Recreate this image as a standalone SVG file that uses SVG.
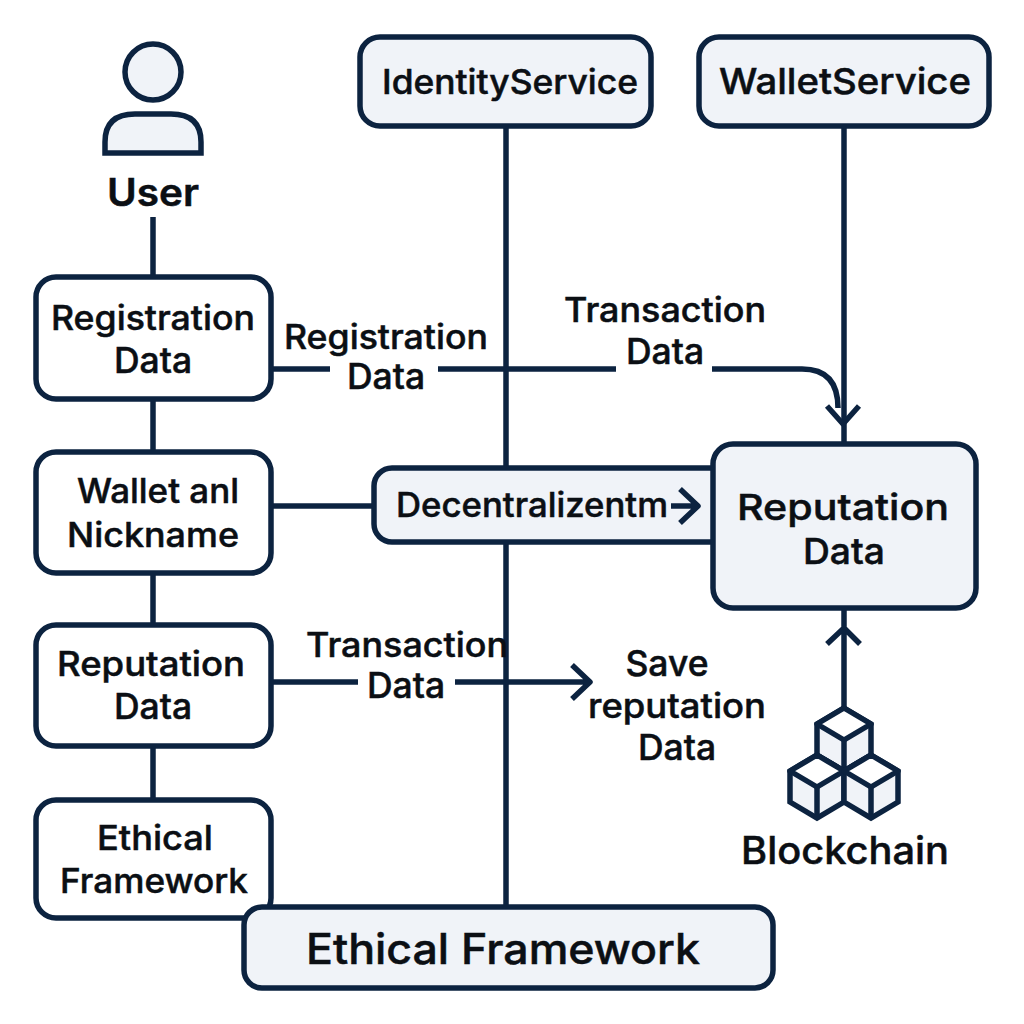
<svg xmlns="http://www.w3.org/2000/svg" width="1024" height="1024" viewBox="0 0 1024 1024">
<style>
.box{fill:#fff;stroke:#0c2340;stroke-width:5.5}
.fill{fill:#f0f3f8;stroke:#0c2340;stroke-width:5.5}
.w{fill:#fff;stroke:#0c2340;stroke-width:5.5;stroke-linejoin:round}
.c{fill:none;stroke:#0c2340;stroke-width:5.5;stroke-linejoin:round;stroke-linecap:butt}
text{font-family:Inter,"Liberation Sans",sans-serif;font-weight:500;fill:#0b0f14;stroke:#0b0f14;stroke-width:.5;text-anchor:middle}
.f34{font-size:34px}.f35{font-size:35.5px}.f36{font-size:36px}.f38{font-size:38px}.f42{font-size:42px}
</style>
<rect width="1024" height="1024" fill="#fff"/>
<g id="connectors">
<path class="c" d="M153 217V277M153 399V452M153 573V625M153 746V800"/>
<path class="c" d="M506 126V468M506 542V907"/>
<path class="c" d="M844 126V444"/>
<path class="c" d="M271 369H330M438 369H616M712 369H802Q838 369 838 408"/>
<path class="c" d="M827 406L843 424L859 406"/>
<path class="c" d="M271 506H373"/>
<path class="c" d="M271 682H358M455 682H590M572 665L590 682L572 699"/>
<path class="c" d="M844 708V610M827 644L844 628L860 644"/>
</g>
<g id="user">
<circle class="fill" cx="153" cy="72" r="28"/>
<path class="fill" d="M105 153V142Q105 114 135 114H171Q201 114 201 142V153Z"/>
<text class="f38" x="153" y="206" textLength="92" lengthAdjust="spacingAndGlyphs" style="font-weight:600">User</text>
</g>
<g id="identity-service">
<rect class="fill" x="360" y="37" width="291" height="89" rx="20"/>
<text class="f34" x="510" y="94" textLength="256" lengthAdjust="spacingAndGlyphs">IdentityService</text>
</g>
<g id="wallet-service">
<rect class="fill" x="699" y="37" width="290" height="89" rx="20"/>
<text class="f36" x="845" y="94" textLength="252" lengthAdjust="spacingAndGlyphs">WalletService</text>
</g>
<g id="registration-data">
<rect class="box" x="36" y="277" width="235" height="122" rx="20"/>
<text class="f34" x="153" y="330" textLength="204" lengthAdjust="spacingAndGlyphs">Registration</text>
<text class="f35" x="153" y="373">Data</text>
</g>
<g id="wallet-nickname">
<rect class="box" x="36" y="452" width="235" height="121" rx="20"/>
<text class="f34" x="158" y="503" textLength="162" lengthAdjust="spacingAndGlyphs">Wallet anl</text>
<text class="f34" x="153" y="547" textLength="172" lengthAdjust="spacingAndGlyphs">Nickname</text>
</g>
<g id="reputation-data-left">
<rect class="box" x="36" y="625" width="235" height="121" rx="20"/>
<text class="f34" x="151" y="676" textLength="188" lengthAdjust="spacingAndGlyphs">Reputation</text>
<text class="f35" x="153" y="719">Data</text>
</g>
<g id="ethical-framework-box">
<rect class="box" x="36" y="800" width="235" height="118" rx="20"/>
<text class="f34" x="155" y="850" textLength="116" lengthAdjust="spacingAndGlyphs">Ethical</text>
<text class="f34" x="154" y="893" textLength="188" lengthAdjust="spacingAndGlyphs">Framework</text>
</g>
<g id="ethical-framework-bar">
<rect class="fill" x="244" y="907" width="529" height="81" rx="18"/>
<text class="f42" x="503" y="964" textLength="394" lengthAdjust="spacingAndGlyphs">Ethical Framework</text>
</g>
<g id="decentralizentm">
<rect class="fill" x="374" y="468" width="370" height="74" rx="18"/>
<text class="f34" x="532" y="517" textLength="272" lengthAdjust="spacingAndGlyphs">Decentralizentm</text>
<path class="c" d="M671 506H698M680 489L698 506L680 523"/>
</g>
<g id="reputation-data-right">
<rect class="fill" x="713" y="444" width="263" height="164" rx="20"/>
<text class="f36" x="843" y="520" textLength="212" lengthAdjust="spacingAndGlyphs">Reputation</text>
<text class="f36" x="844" y="564" textLength="82" lengthAdjust="spacingAndGlyphs">Data</text>
</g>
<g id="blockchain">
<path class="fill" d="M844 708L871 724V755L844 771L817 755V724Z"/>
<path class="w" d="M844 708L871 724L844 740L817 724Z"/>
<path class="c" d="M844 740V771"/>
<path class="fill" d="M817 755L844 771V802L817 818L790 802V771Z"/>
<path class="w" d="M817 755L844 771L817 787L790 771Z"/>
<path class="c" d="M817 787V818"/>
<path class="fill" d="M871 755L898 771V802L871 818L844 802V771Z"/>
<path class="w" d="M871 755L898 771L871 787L844 771Z"/>
<path class="c" d="M871 787V818"/>
<text class="f38" x="845" y="864" textLength="208" lengthAdjust="spacingAndGlyphs">Blockchain</text>
</g>
<g id="labels">
<text class="f34" x="386" y="349" textLength="204" lengthAdjust="spacingAndGlyphs">Registration</text>
<text class="f35" x="386" y="389">Data</text>
<text class="f34" x="665" y="322" textLength="202" lengthAdjust="spacingAndGlyphs">Transaction</text>
<text class="f35" x="665" y="364">Data</text>
<text class="f34" x="407" y="657" textLength="202" lengthAdjust="spacingAndGlyphs">Transaction</text>
<text class="f35" x="406" y="698">Data</text>
<text class="f35" x="667" y="676">Save</text>
<text class="f34" x="677" y="718" textLength="178" lengthAdjust="spacingAndGlyphs">reputation</text>
<text class="f35" x="677" y="760">Data</text>
</g>
</svg>
